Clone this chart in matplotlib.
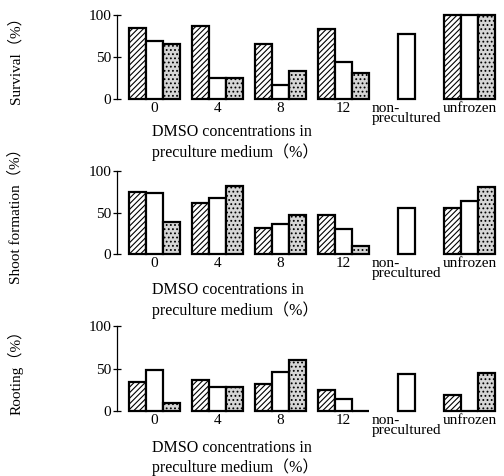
import numpy as np
import matplotlib
matplotlib.use('Agg')
import matplotlib.pyplot as plt
import matplotlib.transforms as mtransforms

plt.rcParams['font.family'] = ['Liberation Serif', 'Noto Sans CJK JP']
plt.rcParams['hatch.linewidth'] = 0.8

# data (percent)
groups = ['0', '4', '8', '12', 'non-\nprecultured', 'unfrozen']
nan = np.nan

survival_hatched = [84, 87, 65, 83, nan, 100]
survival_white = [69, 25, 17, 44, 77, 100]
survival_gray = [65, 25, 33, 31, nan, 100]

shoot_hatched = [75, 61, 31, 47, nan, 56]
shoot_white = [74, 67, 36, 30, 56, 64]
shoot_gray = [38, 82, 47, 10, nan, 81]

root_hatched = [34, 36, 32, 25, nan, 19]
root_white = [48, 28, 46, 14, 44, 0]
root_gray = [9, 28, 60, 0, nan, 45]

ylabels = ['Survival（%）', 'Shoot formation（%）', 'Rooting（%）']
xlabels = ['DMSO concentrations in\npreculture medium（%）',
           'DMSO cocentrations in\npreculture medium（%）',
           'DMSO concentrations in\npreculture medium（%）']

W, H = 504, 476
fig = plt.figure(figsize=(W / 100, H / 100), dpi=100)

# pixel positions of each panel: (y of 0, y of 100, xlabel offset)
panels = [(99, 15, -0.30), (254, 171, -0.34), (411, 326, -0.34)]
data = [(survival_hatched, survival_white, survival_gray),
        (shoot_hatched, shoot_white, shoot_gray),
        (root_hatched, root_white, root_gray)]

left_px, right_px = 117, 500
grp = 63.0
c0 = 154.5
bw = 17 / grp
x = np.arange(len(groups))

for k, ((y0, y100, xoff), (hat, wht, gry)) in enumerate(zip(panels, data)):
    ax = fig.add_axes([left_px / W, 1 - y0 / H, (right_px - left_px) / W, (y0 - y100) / H])
    kw = dict(width=bw, edgecolor='black', linewidth=1.6, clip_on=False)
    ax.bar(x - bw, hat, facecolor='white', hatch='//////', **kw)
    ax.bar(x, wht, facecolor='white', **kw)
    ax.bar(x + bw, gry, facecolor='#d6d6d6', hatch='....', **kw)

    ax.set_xlim((left_px - c0) / grp, (right_px - c0) / grp)
    ax.set_ylim(0, 100)
    for s in ['top', 'right', 'bottom']:
        ax.spines[s].set_visible(False)
    ax.spines['left'].set_linewidth(0.9)
    ax.set_yticks([0, 50, 100])
    ax.tick_params(axis='y', direction='inout', length=6, width=0.9, labelsize=11, pad=1)
    ax.set_xticks(x)
    ax.set_xticklabels(groups)
    ax.tick_params(axis='x', length=0, labelsize=11, pad=2)
    for t in ax.get_xticklabels():
        t.set_multialignment('left')
        t.set_linespacing(0.75)

    trans = mtransforms.blended_transform_factory(ax.transData, ax.transAxes)
    ax.text(-0.04, xoff, xlabels[k], transform=trans, ha='left', va='top',
            fontsize=11.5, linespacing=1.2)

    fig.text(15 / W, 1 - (y0 + y100) / 2 / H, ylabels[k], rotation=90,
             ha='center', va='center', fontsize=11)

fig.savefig('out.png', dpi=100)
